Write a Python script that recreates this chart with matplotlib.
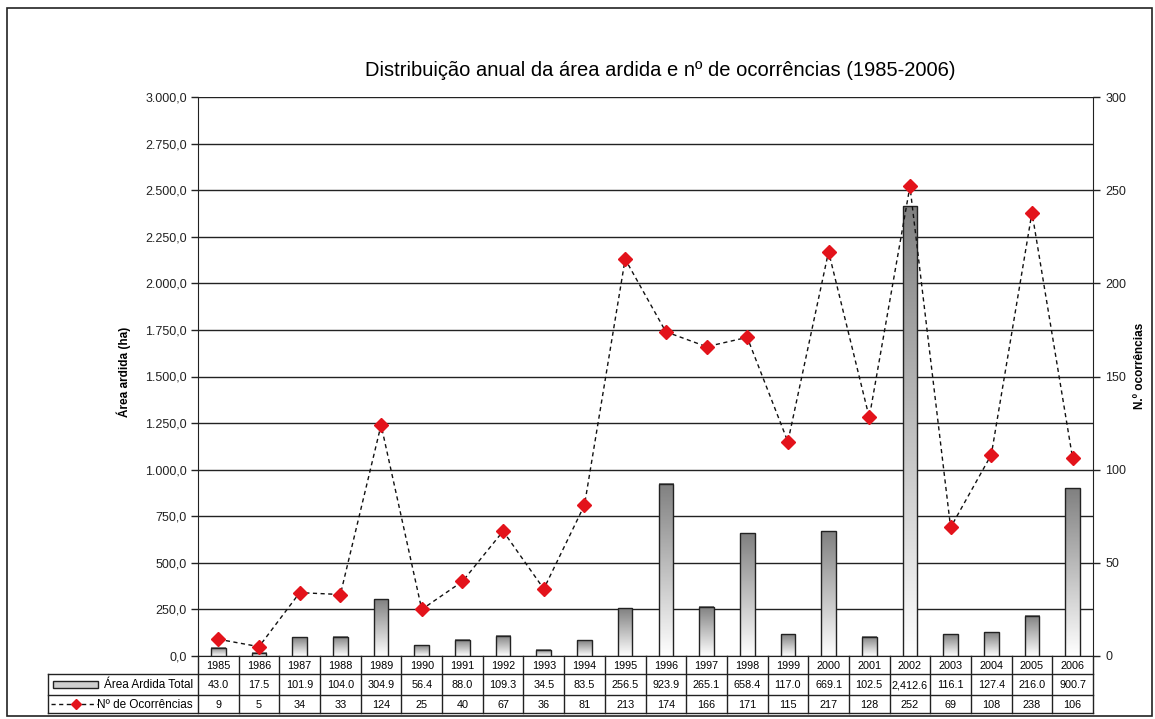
import numpy as np
import matplotlib.pyplot as plt
from matplotlib.patches import Rectangle

plt.rcParams['font.family'] = ['Liberation Sans', 'DejaVu Sans']

anos = [1985, 1986, 1987, 1988, 1989, 1990, 1991, 1992, 1993, 1994, 1995,
        1996, 1997, 1998, 1999, 2000, 2001, 2002, 2003, 2004, 2005, 2006]
area_ardida = [43.0, 17.5, 101.9, 104.0, 304.9, 56.4, 88.0, 109.3, 34.5, 83.5, 256.5,
               923.9, 265.1, 658.4, 117.0, 669.1, 102.5, 2412.6, 116.1, 127.4, 216.0, 900.7]
ocorrencias = [9, 5, 34, 33, 124, 25, 40, 67, 36, 81, 213,
               174, 166, 171, 115, 217, 128, 252, 69, 108, 238, 106]

W, H = 1155, 719
fig = plt.figure(figsize=(W / 100, H / 100), dpi=100)

# plot area in pixels
px0, px1, py0, py1 = 198, 1093, 97, 656
ax = fig.add_axes([px0 / W, 1 - py1 / H, (px1 - px0) / W, (py1 - py0) / H])
n = len(anos)
x = np.arange(n)

# gradient bars (dark at the top, white at the base)
grad = np.linspace(0, 1, 256).reshape(-1, 1)
cmap = plt.matplotlib.colors.LinearSegmentedColormap.from_list('g', ['#ffffff', '#808080'])
bw = 0.36
for xi, v in zip(x, area_ardida):
    ax.imshow(grad, extent=[xi - bw / 2, xi + bw / 2, 0, v], origin='lower',
              aspect='auto', cmap=cmap, zorder=2)
    ax.add_patch(Rectangle((xi - bw / 2, 0), bw, v, fill=False, ec='#222222', lw=1.0, zorder=3))

ax.set_xlim(-0.5, n - 0.5)
ax.set_ylim(0, 3000)
ax.set_yticks(np.arange(0, 3001, 250))
ax.set_yticklabels([f'{v:,.1f}'.replace(',', 'X').replace('.', ',').replace('X', '.')
                    for v in np.arange(0, 3001, 250)], fontsize=9, color='#222222')
ax.yaxis.grid(True, color='#222222', lw=1.0)
ax.set_axisbelow(True)
ax.set_xticks([])
ax.tick_params(axis='y', length=5, width=1, color='#222222', pad=3)
ax.spines['top'].set_visible(False)
ax.spines['right'].set_visible(False)
ax.spines['left'].set_color('#222222')
ax.spines['bottom'].set_color('#222222')

ax2 = ax.twinx()
ax2.plot(x, ocorrencias, ls=(0, (3, 2.5)), color='#111111', lw=1.0,
         marker='D', ms=7, mfc='#e3131b', mec='#e3131b', zorder=5)
ax2.set_ylim(0, 300)
ax2.set_yticks(np.arange(0, 301, 50))
ax2.set_yticklabels([str(v) for v in range(0, 301, 50)], fontsize=9, color='#222222')
ax2.tick_params(axis='y', length=5, width=1, color='#222222', pad=4)
for s in ['top', 'left', 'bottom']:
    ax2.spines[s].set_visible(False)
ax2.spines['right'].set_color('#222222')
ax2.set_xlim(-0.5, n - 0.5)

# axis titles
fig.text(124 / W, 1 - 372 / H, 'Área ardida (ha)', rotation=90, ha='center', va='center',
         fontsize=8.5, fontweight='bold')
fig.text(1140 / W, 1 - 366 / H, 'N.º ocorrências', rotation=90, ha='center', va='center',
         fontsize=8.5, fontweight='bold')

fig.text(660 / W, 1 - 71 / H,
         'Distribuição anual da área ardida e nº de ocorrências (1985-2006)',
         ha='center', va='center', fontsize=14.5)

# overlay in pixel coordinates for frame and data table
ov = fig.add_axes([0, 0, 1, 1], zorder=-1)
ov.set_xlim(0, W)
ov.set_ylim(H, 0)
ov.axis('off')
ov.add_patch(Rectangle((7, 8), 1145, 708, fill=False, ec='#222222', lw=1.2))

tab = fig.add_axes([0, 0, 1, 1])
tab.set_xlim(0, W)
tab.set_ylim(H, 0)
tab.axis('off')
lc = '#222222'
cw = (px1 - px0) / n
r0, r1, r2, r3 = 656, 674, 695, 713
lx = 48
for i in range(n + 1):
    xb = px0 + i * cw
    tab.plot([xb, xb], [r0, r3], color=lc, lw=1.0)
tab.plot([lx, lx], [r1, r3], color=lc, lw=1.0)
for yy in (r1, r2, r3):
    tab.plot([lx, px1], [yy, yy], color=lc, lw=1.0)

tfs = 7.8
for i in range(n):
    xc = px0 + (i + 0.5) * cw
    tab.text(xc, (r0 + r1) / 2 + 1, str(anos[i]), ha='center', va='center', fontsize=tfs)
    tab.text(xc, (r1 + r2) / 2 + 1, f'{area_ardida[i]:,.1f}', ha='center', va='center', fontsize=tfs)
    tab.text(xc, (r2 + r3) / 2 + 1, str(ocorrencias[i]), ha='center', va='center', fontsize=tfs)

# legend keys inside the table
tab.add_patch(Rectangle((53, 681), 45, 7, fc='#cfcfcf', ec=lc, lw=1.0))
tab.text(193, (r1 + r2) / 2 + 1, 'Área Ardida Total', ha='right', va='center', fontsize=8.5)
tab.plot([51, 98], [704, 704], ls=(0, (3, 2.5)), color='#111111', lw=1.0)
tab.plot([76], [704], marker='D', ms=5, color='#e3131b', ls='none')
tab.text(193, (r2 + r3) / 2 + 1, 'Nº de Ocorrências', ha='right', va='center', fontsize=8.5)

fig.savefig('out.png', dpi=100)
